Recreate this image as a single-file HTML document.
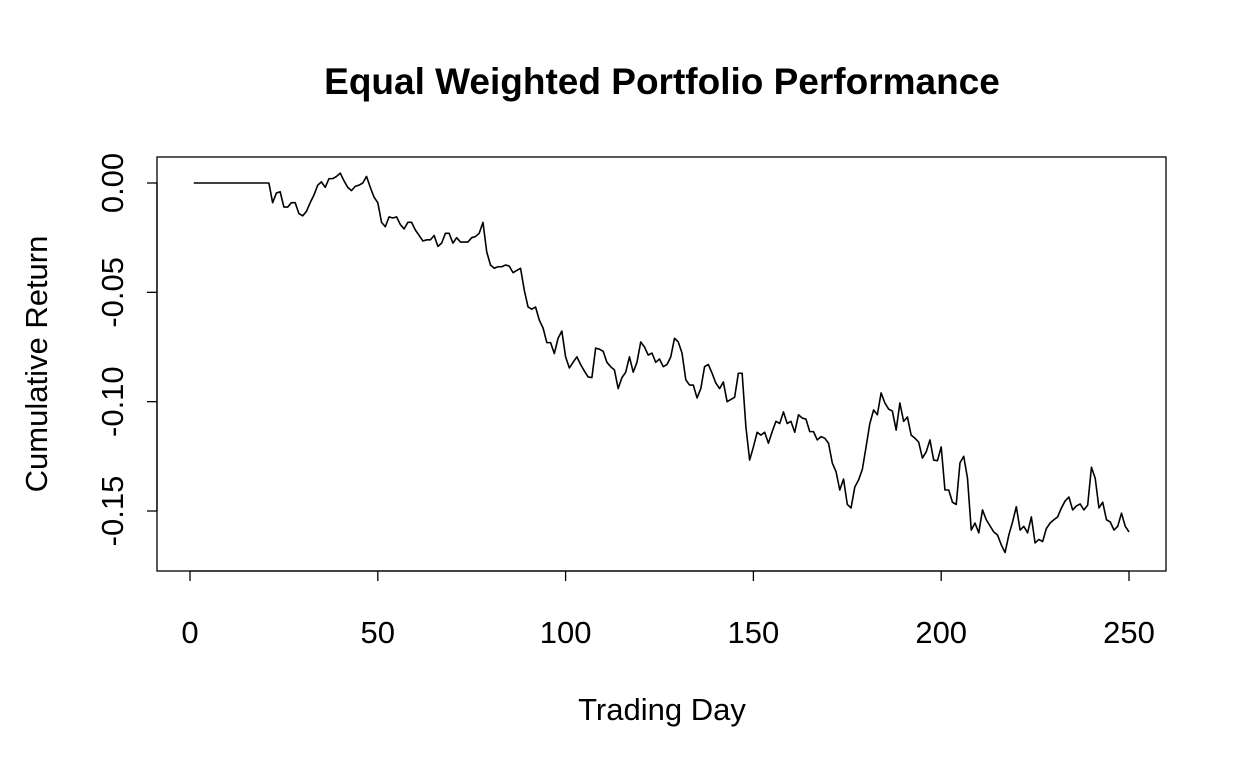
<!DOCTYPE html>
<html><head><meta charset="utf-8"><style>
html,body{margin:0;padding:0;background:#fff;}
svg{display:block;font-family:"Liberation Sans",Arial,sans-serif;}
</style></head><body>
<svg id="chart" width="1248" height="768" viewBox="0 0 1248 768" xmlns="http://www.w3.org/2000/svg">
<rect width="1248" height="768" fill="#fff"/>
<text x="662" y="94" text-anchor="middle" font-size="37" font-weight="bold">Equal Weighted Portfolio Performance</text>
<rect x="157" y="157" width="1009" height="414" fill="none" stroke="#000" stroke-width="1.3"/>
<text x="662" y="720" text-anchor="middle" font-size="31">Trading Day</text>
<text transform="translate(47,364) rotate(-90)" text-anchor="middle" font-size="31">Cumulative Return</text>
<g id="xaxis"></g>
<g id="yaxis"></g>
<polyline id="line" fill="none" stroke="#000" stroke-width="1.6" stroke-linejoin="round"/>
</svg>
<script>
const xTicks = [0, 50, 100, 150, 200, 250];
const xTickLabels = ["0", "50", "100", "150", "200", "250"];
const yTicks = [0, -0.05, -0.10, -0.15];
const yTickLabels = ["0.00", "-0.05", "-0.10", "-0.15"];
const returns = [
0,0,0,0,0,0,0,0,0,0,0,0,0,0,0,0,0,0,0,0,0,
-0.009,-0.0046,-0.004,-0.011,-0.011,-0.009,-0.009,-0.014,-0.015,-0.013,
-0.009,-0.0055,-0.001,0.0005,-0.002,0.002,0.002,0.003,0.0045,0.001,
-0.002,-0.0035,-0.0015,-0.001,0,0.003,-0.002,-0.0065,-0.009,-0.018,
-0.020,-0.0155,-0.016,-0.0155,-0.019,-0.021,-0.018,-0.018,-0.0215,-0.024,
-0.0265,-0.026,-0.026,-0.024,-0.029,-0.0275,-0.023,-0.023,-0.0275,-0.025,
-0.027,-0.027,-0.027,-0.025,-0.0245,-0.023,-0.018,-0.0315,-0.0375,-0.039,
-0.0383,-0.0383,-0.0375,-0.038,-0.041,-0.040,-0.039,-0.049,-0.0567,-0.0577,
-0.0567,-0.0627,-0.0663,-0.073,-0.073,-0.078,-0.071,-0.0677,-0.0795,-0.0846,
-0.082,-0.0795,-0.083,-0.086,-0.0887,-0.089,-0.0755,-0.076,-0.077,-0.082,
-0.084,-0.0855,-0.094,-0.089,-0.0865,-0.0795,-0.0865,-0.082,-0.0727,-0.075,
-0.0787,-0.0778,-0.082,-0.0805,-0.084,-0.083,-0.0795,-0.071,-0.0727,-0.0778,
-0.090,-0.0924,-0.0924,-0.0983,-0.094,-0.084,-0.083,-0.087,-0.0915,-0.094,
-0.091,-0.100,-0.099,-0.098,-0.087,-0.087,-0.1115,-0.1267,-0.1207,-0.114,
-0.1153,-0.114,-0.119,-0.1137,-0.109,-0.110,-0.1047,-0.110,-0.109,-0.114,
-0.106,-0.1075,-0.108,-0.1137,-0.1137,-0.1175,-0.116,-0.1167,-0.119,-0.128,
-0.132,-0.1404,-0.1354,-0.147,-0.1486,-0.139,-0.1358,-0.131,-0.1207,-0.110,
-0.1038,-0.106,-0.096,-0.1006,-0.1034,-0.1043,-0.113,-0.1006,-0.109,-0.107,
-0.1153,-0.1167,-0.1185,-0.1258,-0.123,-0.1175,-0.1267,-0.127,-0.1207,-0.1404,
-0.1404,-0.146,-0.147,-0.128,-0.125,-0.135,-0.1587,-0.1555,-0.160,-0.1495,
-0.154,-0.1568,-0.1596,-0.161,-0.1655,-0.169,-0.161,-0.155,-0.148,-0.1587,
-0.157,-0.160,-0.1527,-0.1646,-0.163,-0.164,-0.158,-0.1555,-0.154,-0.1527,
-0.1486,-0.1454,-0.1436,-0.1495,-0.1477,-0.1468,-0.1495,-0.1473,-0.130,-0.135,
-0.1486,-0.146,-0.154,-0.155,-0.1587,-0.157,-0.151,-0.157,-0.1596
];
const NS = "http://www.w3.org/2000/svg";
function xScale(d){ return 190 + d * (939 / 250); }
function yScale(v){ return 183 - v * (328 / 0.15); }
const xg = document.getElementById("xaxis");
const yg = document.getElementById("yaxis");
const axX = document.createElementNS(NS, "line");


axX.setAttribute("x1", xScale(xTicks[0])); axX.setAttribute("x2", xScale(xTicks[xTicks.length-1]));
axX.setAttribute("y1", 571); axX.setAttribute("y2", 571); axX.setAttribute("stroke", "#000"); axX.setAttribute("stroke-width", "1.3");
xg.appendChild(axX);
xTicks.forEach((t, i) => {
  const tk = document.createElementNS(NS, "line");
  
  
  tk.setAttribute("x1", xScale(t)); tk.setAttribute("x2", xScale(t));
  tk.setAttribute("y1", 571); tk.setAttribute("y2", 581); tk.setAttribute("stroke", "#000"); tk.setAttribute("stroke-width", "1.3");
  xg.appendChild(tk);
  const lb = document.createElementNS(NS, "text");
  
  
  lb.setAttribute("x", xScale(t)); lb.setAttribute("y", 643);
  lb.setAttribute("text-anchor", "middle"); lb.setAttribute("font-size", "31");
  lb.textContent = xTickLabels[i];
  xg.appendChild(lb);
});
const axY = document.createElementNS(NS, "line");


axY.setAttribute("x1", 157); axY.setAttribute("x2", 157);
axY.setAttribute("y1", yScale(yTicks[0])); axY.setAttribute("y2", yScale(yTicks[yTicks.length-1]));
axY.setAttribute("stroke", "#000"); axY.setAttribute("stroke-width", "1.3");
yg.appendChild(axY);
yTicks.forEach((t, i) => {
  const tk = document.createElementNS(NS, "line");
  
  
  tk.setAttribute("x1", 147); tk.setAttribute("x2", 157);
  tk.setAttribute("y1", yScale(t)); tk.setAttribute("y2", yScale(t));
  tk.setAttribute("stroke", "#000"); tk.setAttribute("stroke-width", "1.3");
  yg.appendChild(tk);
  const lb = document.createElementNS(NS, "text");
  
  
  lb.setAttribute("transform", "translate(123," + yScale(t) + ") rotate(-90)");
  lb.setAttribute("text-anchor", "middle"); lb.setAttribute("font-size", "31");
  lb.textContent = yTickLabels[i];
  yg.appendChild(lb);
});
const pts = returns.map((v, i) => xScale(i + 1).toFixed(2) + "," + yScale(v).toFixed(2)).join(" ");
document.getElementById("line").setAttribute("points", pts);
</script>
</body></html>
